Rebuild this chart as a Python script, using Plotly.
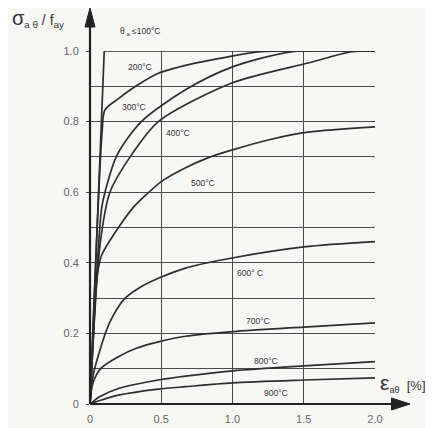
import plotly.graph_objects as go

# ---- data (strain in %, normalised stress) ----
t100_x = [0, 0.1, 2.0]
t100_y = [0, 1.0, 1.0]

t200_x = [0, 0.085, 0.105, 0.2, 0.32, 0.48, 0.7, 0.95, 1.2, 2.0]
t200_y = [0, 0.77, 0.833, 0.865, 0.9, 0.937, 0.962, 0.982, 0.998, 1.0]

t300_x = [0, 0.08, 0.105, 0.19, 0.36, 0.67, 1.0, 1.42, 2.0]
t300_y = [0, 0.55, 0.6, 0.705, 0.8, 0.89, 0.955, 0.998, 1.0]

t400_x = [0, 0.07, 0.14, 0.29, 0.48, 1.0, 1.53, 1.84, 2.0]
t400_y = [0, 0.45, 0.6, 0.705, 0.8, 0.91, 0.966, 0.998, 1.0]

t500_x = [0, 0.05, 0.08, 0.2, 0.3, 0.4, 0.5, 0.65, 0.83, 1.0, 1.25, 1.53, 2.0]
t500_y = [0, 0.36, 0.42, 0.5, 0.555, 0.595, 0.63, 0.665, 0.698, 0.72, 0.748, 0.77, 0.785]

t600_x = [0, 0.02, 0.07, 0.136, 0.24, 0.35, 0.48, 0.67, 0.95, 1.5, 2.0]
t600_y = [0, 0.077, 0.153, 0.229, 0.297, 0.33, 0.356, 0.385, 0.41, 0.445, 0.46]

t700_x = [0, 0.02, 0.077, 0.2, 0.32, 0.48, 0.67, 1.0, 1.5, 2.0]
t700_y = [0, 0.059, 0.101, 0.134, 0.157, 0.176, 0.192, 0.205, 0.218, 0.23]

t800_x = [0, 0.07, 0.2, 0.48, 0.67, 1.0, 1.5, 2.0]
t800_y = [0, 0.021, 0.044, 0.068, 0.079, 0.094, 0.108, 0.12]

t900_x = [0, 0.07, 0.2, 0.48, 0.67, 1.0, 1.5, 2.0]
t900_y = [0, 0.01, 0.025, 0.042, 0.049, 0.06, 0.068, 0.074]

series = [
    (t100_x, t100_y), (t200_x, t200_y), (t300_x, t300_y), (t400_x, t400_y),
    (t500_x, t500_y), (t600_x, t600_y), (t700_x, t700_y), (t800_x, t800_y),
    (t900_x, t900_y),
]

labels = ["θ<sub> a</sub> ≤100°C", "200°C", "300°C", "400°C", "500°C",
          "600° C", "700°C", "800°C", "900°C"]
label_x = [0.35, 0.35, 0.31, 0.62, 0.79, 1.12, 1.18, 1.235, 1.305]
label_y = [1.054, 0.955, 0.84, 0.768, 0.626, 0.371, 0.235, 0.122, 0.031]

x_tick_vals = [0, 0.5, 1.0, 1.5, 2.0]
x_tick_text = ["0", "0.5", "1.0", "1.5", "2.0"]
y_tick_vals = [0, 0.2, 0.4, 0.6, 0.8, 1.0]
y_tick_text = ["0", "0.2", "0.4", "0.6", "0.8", "1.0"]

X_MAX = 2.0
INK = "#2e2e2e"
GRID = "#4a4a4a"
BG = "#f7f7f5"
FONT = "Liberation Sans"

fig = go.Figure()
for i, (xs, ys) in enumerate(series):
    fig.add_trace(go.Scatter(
        x=xs, y=ys, mode="lines",
        line=dict(color=INK, width=1.7,
                  shape="linear" if i == 0 else "spline",
                  smoothing=0.8 if i else None),
        showlegend=False, hoverinfo="skip", cliponaxis=False,
    ))

# curve labels (paper coords so the one above the frame is kept)
for txt, lx, ly in zip(labels, label_x, label_y):
    fig.add_annotation(x=lx / X_MAX, y=ly, xref="paper", yref="paper", text=txt,
                       xanchor="center", yanchor="middle",
                       showarrow=False, font=dict(family=FONT, size=8.5, color="#333"))

# axis titles
fig.add_annotation(xref="paper", yref="paper", x=-0.28, y=1.092,
                   xanchor="left", yanchor="middle", showarrow=False,
                   text="<span style='font-size:20px'>σ</span><sub>a θ</sub> / f<sub>ay</sub>",
                   font=dict(family=FONT, size=14, color="#333"))
fig.add_annotation(xref="paper", yref="paper", x=1.01, y=0.06,
                   xanchor="left", yanchor="middle", showarrow=False,
                   text="<span style='font-size:21px'>ε</span><sub>aθ</sub>  [%]",
                   font=dict(family=FONT, size=13, color="#333"))

# axis lines with arrowheads (decoration, paper coords)
fig.add_shape(type="line", xref="paper", yref="paper", x0=0, y0=0, x1=0, y1=1.08,
              line=dict(color="#222", width=2.2))
fig.add_shape(type="line", xref="paper", yref="paper", x0=0, y0=0, x1=1.07, y1=0,
              line=dict(color="#222", width=2.2))
fig.add_shape(type="path", xref="paper", yref="paper",
              path="M -0.0175,1.068 L 0.0175,1.068 L 0,1.122 Z",
              fillcolor="#222", line=dict(color="#222", width=1))
fig.add_shape(type="path", xref="paper", yref="paper",
              path="M 1.058,0.017 L 1.058,-0.017 L 1.123,0 Z",
              fillcolor="#222", line=dict(color="#222", width=1))

fig.update_xaxes(range=[0, X_MAX], tickvals=x_tick_vals, ticktext=x_tick_text,
                 showgrid=True, gridcolor=GRID, gridwidth=1.3, zeroline=False,
                 showline=False, ticks="", ticklabelstandoff=7,
                 tickfont=dict(family=FONT, size=11, color="#666"))
fig.update_yaxes(range=[0, 1.0], tickvals=y_tick_vals, ticktext=y_tick_text,
                 showgrid=True, gridcolor=GRID, gridwidth=1.3, zeroline=False,
                 showline=False, ticks="outside", ticklen=3, tickcolor=GRID,
                 ticklabelstandoff=5,
                 minor=dict(dtick=0.1, tick0=0, showgrid=True, gridcolor=GRID, gridwidth=1.3),
                 tickfont=dict(family=FONT, size=11, color="#666"))

# page body has an 8px offset, so the margins compensate for it
fig.update_layout(width=434, height=428,
                  margin=dict(l=82, r=67, t=43, b=32),
                  paper_bgcolor=BG, plot_bgcolor=BG)

fig.write_html("out.html")
